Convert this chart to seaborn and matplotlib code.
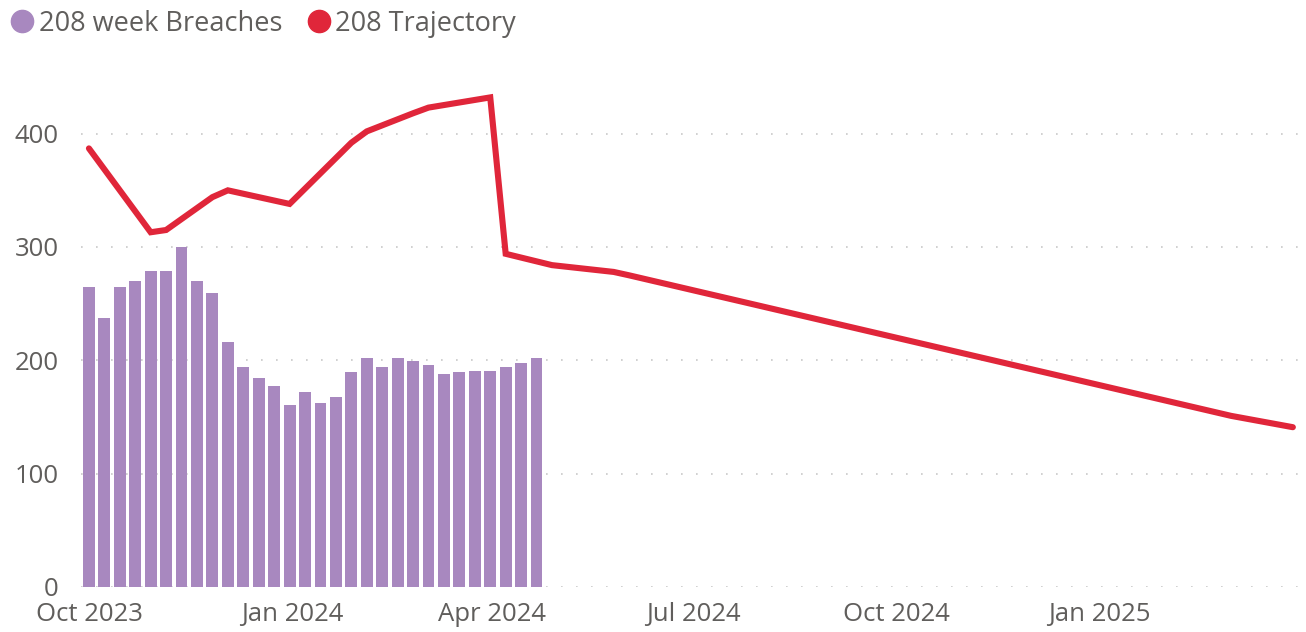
import pandas as pd
import numpy as np
import matplotlib
matplotlib.use("Agg")
import matplotlib.pyplot as plt
import matplotlib.dates as mdates
from matplotlib.lines import Line2D
import seaborn as sns

# weekly breaches (week starting)
week_start = pd.date_range("2023-10-01", periods=30, freq="7D")
breaches = [265, 237, 265, 270, 279, 279, 300, 270, 259, 216,
            194, 184, 177, 161, 172, 162, 168, 190, 202, 194,
            202, 199, 196, 188, 190, 191, 191, 194, 198, 202]

# trajectory turning points
traj_dates = pd.to_datetime([
    "2023-10-01", "2023-10-29", "2023-11-05", "2023-11-26", "2023-12-03",
    "2023-12-31", "2024-01-28", "2024-02-04", "2024-02-25", "2024-03-03",
    "2024-03-31", "2024-04-07", "2024-04-28", "2024-05-26", "2024-06-02",
    "2025-03-02", "2025-03-30"])
trajectory = [387, 313, 315, 344, 350,
              338, 392, 402, 418, 423,
              432, 294, 284, 278, 275,
              151, 141]

tick_dates = pd.to_datetime(["2023-10-01", "2024-01-01", "2024-04-01",
                             "2024-07-01", "2024-10-01", "2025-01-01"])
tick_labels = ["Oct 2023", "Jan 2024", "Apr 2024", "Jul 2024", "Oct 2024", "Jan 2025"]

BAR = "#A888BF"
RED = "#E0263A"
TXT = "#605E5C"

sns.set_style("white")
plt.rcParams["font.family"] = ["Open Sans", "DejaVu Sans"]

fig = plt.figure(figsize=(13.06, 6.32), dpi=100)
ax = fig.add_axes([81 / 1306, 45 / 632, (1303 - 81) / 1306, 510 / 632])

bars_df = pd.DataFrame({"x": mdates.date2num(week_start), "y": breaches})
line_df = pd.DataFrame({"x": mdates.date2num(traj_dates), "y": trajectory})

sns.barplot(data=bars_df, x="x", y="y", native_scale=True, width=0.77,
            color=BAR, saturation=1, edgecolor="none", ax=ax, zorder=2)
sns.lineplot(data=line_df, x="x", y="y", color=RED, linewidth=4.4,
             solid_joinstyle="miter", ax=ax, zorder=3)

x0 = mdates.date2num(pd.Timestamp("2023-10-01"))
ax.set_xlim(x0 - 3.6, x0 + 550.6)
ax.set_ylim(0, 450)

ax.set_yticks([0, 100, 200, 300, 400])
ax.set_xticks(mdates.date2num(tick_dates))
ax.set_xticklabels(tick_labels)
ax.tick_params(axis="both", length=0, labelsize=18.5, colors=TXT)
ax.tick_params(axis="y", pad=16)
ax.tick_params(axis="x", pad=10.5)
ax.set_xlabel("")
ax.set_ylabel("")

for v in [0, 100, 200, 300, 400]:
    ax.axhline(v, color="#C8C8C8", linewidth=1.2, linestyle=(0, (1, 8)), zorder=1)

for s in ax.spines.values():
    s.set_visible(False)

handles = [Line2D([], [], marker="o", linestyle="none", markersize=16, color=BAR),
           Line2D([], [], marker="o", linestyle="none", markersize=16, color=RED)]
fig.legend(handles, ["208 week Breaches", "208 Trajectory"], loc="upper left",
           bbox_to_anchor=(-0.016, 1.01), ncol=2, frameon=False, fontsize=19.5,
           handletextpad=-0.4, columnspacing=0.35, labelcolor=TXT,
           borderaxespad=0.2)

fig.savefig("out.png", dpi=100)
